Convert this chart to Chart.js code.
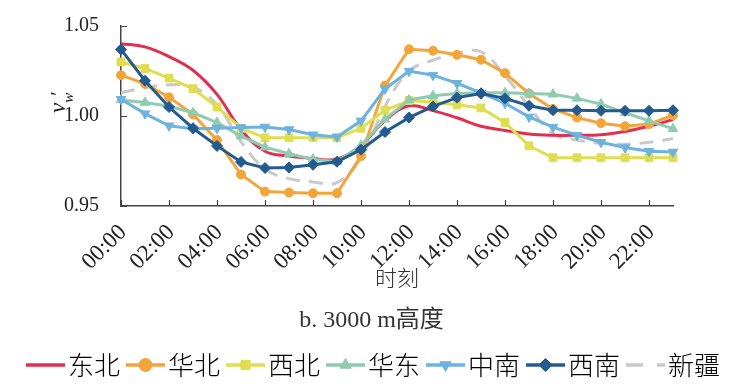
<!DOCTYPE html>
<html lang="zh">
<head>
<meta charset="utf-8">
<title>3000 m高度</title>
<style>
  body { margin: 0; background: #fff; }
  #box { width: 743px; height: 392px; }
</style>
</head>
<body>
<div id="box"><canvas id="myChart" width="743" height="392"></canvas></div>
<script src="https://cdn.jsdelivr.net/npm/chart.js/dist/chart.umd.min.js"></script>
<script>
// time of day, one point per hour
const hours = ['00:00', '01:00', '02:00', '03:00', '04:00', '05:00', '06:00', '07:00',
               '08:00', '09:00', '10:00', '11:00', '12:00', '13:00', '14:00', '15:00',
               '16:00', '17:00', '18:00', '19:00', '20:00', '21:00', '22:00', '23:00'];
const yTicks = [0.95, 1.00, 1.05];

const dongbei  = [1.0402, 1.0384, 1.0330, 1.0254, 1.0120, 0.9925, 0.9804, 0.9777, 0.9764, 0.9760, 0.9836, 0.9975,
                  1.0057, 1.0030, 0.9990, 0.9943, 0.9920, 0.9900, 0.9893, 0.9893, 0.9896, 0.9914, 0.9943, 0.9980];
const huabei   = [1.0227, 1.0179, 1.0104, 1.0009, 0.9866, 0.9675, 0.9580, 0.9575, 0.9571, 0.9571, 0.9777, 1.0169,
                  1.0371, 1.0363, 1.0340, 1.0313, 1.0238, 1.0125, 1.0039, 0.9991, 0.9960, 0.9943, 0.9955, 1.0004];
const xibei    = [1.0300, 1.0264, 1.0211, 1.0152, 1.0050, 0.9932, 0.9879, 0.9879, 0.9879, 0.9879, 0.9932, 1.0032,
                  1.0086, 1.0077, 1.0063, 1.0045, 0.9964, 0.9834, 0.9768, 0.9768, 0.9768, 0.9768, 0.9768, 0.9768];
const huadong  = [1.0089, 1.0075, 1.0054, 1.0018, 0.9964, 0.9888, 0.9827, 0.9790, 0.9760, 0.9746, 0.9836, 0.9982,
                  1.0089, 1.0113, 1.0125, 1.0129, 1.0129, 1.0125, 1.0121, 1.0098, 1.0066, 1.0018, 0.9973, 0.9929];
const zhongnan = [1.0093, 1.0013, 0.9946, 0.9929, 0.9932, 0.9936, 0.9939, 0.9925, 0.9896, 0.9884, 0.9973, 1.0151,
                  1.0249, 1.0227, 1.0182, 1.0129, 1.0071, 0.9995, 0.9938, 0.9893, 0.9854, 0.9825, 0.9804, 0.9800];
const xinan    = [1.0370, 1.0196, 1.0050, 0.9932, 0.9834, 0.9745, 0.9711, 0.9714, 0.9729, 0.9746, 0.9813, 0.9911,
                  0.9991, 1.0053, 1.0102, 1.0125, 1.0098, 1.0057, 1.0032, 1.0032, 1.0029, 1.0029, 1.0029, 1.0032];
const xinjiang = [1.0129, 1.0157, 1.0173, 1.0160, 1.0062, 0.9857, 0.9705, 0.9652, 0.9634, 0.9630, 0.9768, 1.0053,
                  1.0250, 1.0310, 1.0348, 1.0357, 1.0223, 1.0054, 0.9902, 0.9866, 0.9848, 0.9843, 0.9854, 0.9875];

const names  = ['东北', '华北', '西北', '华东', '中南', '西南', '新疆'];
const series = [dongbei, huabei, xibei, huadong, zhongnan, xinan, xinjiang];
const colors = ['#e22f50', '#f3a53a', '#e0dd50', '#8fcbb1', '#6db3de', '#235b91', '#c9c9c9'];
const styles = [false, 'circle', 'rect', 'triangle', 'triangle', 'rectRot', false];
const rots   = [0, 0, 0, 0, 180, 0, 0];
const radii  = [0, 4.5, 5.5, 5.5, 5.5, 5.5, 0];
const orders = [6, 5, 4, 3, 2, 1, 7];

const serif = '"Liberation Serif", "Times New Roman", serif';
const cjk = '"Noto Sans CJK SC", sans-serif';

function makeIcon(i) {
    const c = document.createElement('canvas');
    c.width = 52; c.height = 20;
    const g = c.getContext('2d');
    g.strokeStyle = colors[i];
    g.lineWidth = 3.5;
    if (i === 6) g.setLineDash([17, 14]);
    g.beginPath(); g.moveTo(13, 10); g.lineTo(52, 10); g.stroke();
    g.setLineDash([]);
    if (styles[i]) {
        g.fillStyle = colors[i];
        g.lineWidth = 1;
        Chart.helpers.drawPoint(g, {pointStyle: styles[i], rotation: rots[i], radius: 6.5, borderWidth: 1}, 32.5, 10);
    }
    return c;
}
const icons = names.map((n, i) => makeIcon(i));

const datasets = names.map((n, i) => ({
    label: n,
    data: series[i],
    borderColor: colors[i],
    backgroundColor: colors[i],
    borderWidth: 3,
    borderDash: i === 6 ? [14, 9] : [],
    tension: (i === 0 || i === 6) ? 0.4 : 0,
    pointStyle: styles[i] || 'circle',
    pointRotation: rots[i],
    pointRadius: radii[i],
    pointBorderWidth: 1,
    order: orders[i]
}));

// inward tick marks and the y axis title
const axisExtras = {
    id: 'axisExtras',
    afterDraw(chart) {
        const {ctx, scales: {x, y}} = chart;
        ctx.save();
        ctx.strokeStyle = '#444';
        ctx.lineWidth = 1.2;
        ctx.beginPath();
        hours.forEach((h, i) => {
            if (i % 2) return;
            const px = Math.round(x.getPixelForValue(i)) + 0.5;
            ctx.moveTo(px, y.bottom);
            ctx.lineTo(px, y.bottom - 6);
        });
        yTicks.forEach(v => {
            const py = Math.round(y.getPixelForValue(v)) + 0.5;
            ctx.moveTo(x.left, py);
            ctx.lineTo(x.left + 6, py);
        });
        ctx.stroke();

        ctx.translate(65, 113);
        ctx.rotate(-Math.PI / 2);
        ctx.fillStyle = '#222';
        ctx.textBaseline = 'alphabetic';
        ctx.font = 'italic 23px ' + serif;
        ctx.fillText('v', 0, 0);
        const vw = ctx.measureText('v').width;
        ctx.font = 'italic 15px ' + serif;
        ctx.fillText('w', vw, 8);
        const ww = ctx.measureText('w').width;
        ctx.font = '20px ' + serif;
        ctx.fillText('′', vw + ww - 3, 0);
        ctx.restore();
    }
};

const config = {
    type: 'line',
    data: { labels: hours, datasets },
    plugins: [axisExtras],
    options: {
        responsive: false,
        animation: false,
        devicePixelRatio: 1,
        layout: { padding: { top: 19, right: 0, bottom: 4, left: 0 } },
        scales: {
            x: {
                type: 'category',
                offset: false,
                grid: { display: false },
                border: { display: true, color: '#444', width: 1.5 },
                ticks: {
                    autoSkip: false, minRotation: 45, maxRotation: 45, padding: 5, labelOffset: 2,
                    color: '#222', font: { family: serif, size: 23 },
                    callback: (v, i) => (i % 2 ? '' : hours[i])
                },
                title: { display: true, text: '时刻', color: '#333', padding: 0, font: { family: cjk, size: 22, weight: 300 } },
                afterFit: s => { s.height = 85; }
            },
            y: {
                min: 0.95, max: 1.05,
                grid: { display: false },
                border: { display: true, color: '#444', width: 1.5 },
                afterBuildTicks: s => { s.ticks = yTicks.map(v => ({ value: v })); },
                ticks: {
                    padding: 14, color: '#222', font: { family: serif, size: 20 },
                    callback: v => v.toFixed(2)
                },
                afterFit: s => { s.width = 121; }
            },
            yR: {
                type: 'linear', position: 'right',
                grid: { display: false }, border: { display: false }, ticks: { display: false },
                afterFit: s => { s.width = 70; }
            }
        },
        plugins: {
            tooltip: { enabled: false },
            title: {
                display: true, position: 'bottom', weight: 500,
                text: 'b. 3000 m高度', color: '#333',
                font: { family: serif + ', ' + cjk, size: 24, weight: 'normal' },
                padding: { top: 15.6, bottom: 13.6 }
            },
            legend: {
                position: 'bottom',
                labels: {
                    usePointStyle: true, pointStyleWidth: 32, padding: 3,
                    color: '#333', font: { family: cjk, size: 26, weight: 300 },
                    generateLabels: chart => chart.data.datasets.map((ds, i) => ({
                        text: ds.label, pointStyle: icons[i], fillStyle: colors[i],
                        strokeStyle: colors[i], lineWidth: 0, hidden: false, datasetIndex: i
                    }))
                }
            }
        }
    }
};

const myChart = new Chart(document.getElementById('myChart'), config);
</script>
</body>
</html>
